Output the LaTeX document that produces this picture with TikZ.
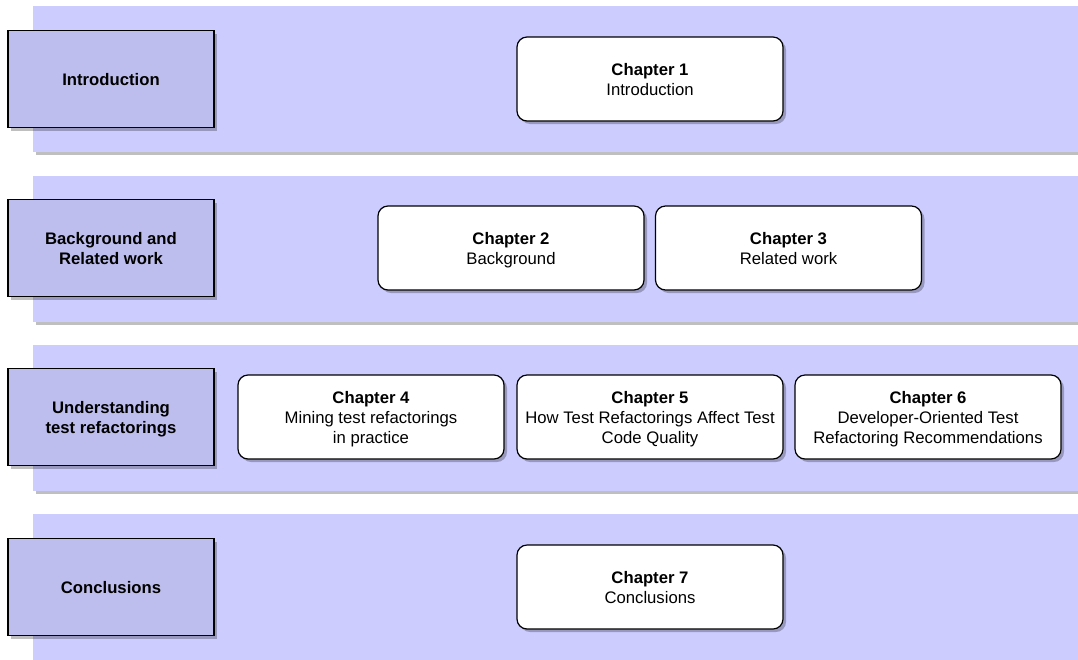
\documentclass[tikz,border=0pt]{standalone}
\usepackage{fontspec}
\setmainfont{Liberation Sans}
\usetikzlibrary{shadows}
\definecolor{bandfill}{RGB}{204,204,255}
\definecolor{labelfill}{RGB}{190,190,238}
% fixed line box so every text line sits the same way in its node
\newcommand{\linebox}{\rule[-4pt]{0pt}{20pt}}
\tikzset{
  boxshadow/.style={drop shadow={shadow xshift=3pt, shadow yshift=-3pt, fill=black, opacity=0.25}},
  band/.style={draw=none, fill=bandfill, minimum width=1060pt, minimum height=146pt,
    anchor=north west, inner sep=0pt, boxshadow},
  partlabel/.style={draw=black, line width=1.2pt, fill=labelfill, minimum width=206pt,
    minimum height=97pt, inner sep=0pt, align=center,
    font=\fontsize{16.7}{20}\selectfont\bfseries, boxshadow},
  chapter/.style={draw=black, line width=1.2pt, fill=white, rounded corners=10pt,
    minimum width=266pt, minimum height=84pt, inner sep=0pt, align=center,
    font=\fontsize{16.7}{20}\selectfont, boxshadow},
}
\begin{document}
\begin{tikzpicture}[x=1pt, y=-1pt]
  \useasboundingbox (0,0) rectangle (1078,659);
  \begin{scope}
    \clip (0,0) rectangle (1078,659);
    % horizontal bands, one per part
    \node[band] (b1) at (33,6) {};
    \node[band] (b2) at (33,176) {};
    \node[band] (b3) at (33,345) {};
    \node[band] (b4) at (33,514) {};
  \end{scope}

  % part labels
  \node[partlabel] (p1) at (111,79) {\linebox Introduction};
  \node[partlabel] (p2) at (111,248) {\linebox Background and\\\linebox Related work};
  \node[partlabel] (p3) at (111,417) {\linebox Understanding\\\linebox test refactorings};
  \node[partlabel] (p4) at (111,587) {\linebox Conclusions};

  % chapters
  \node[chapter] (c1) at (650,79) {\linebox\textbf{Chapter 1}\\\linebox Introduction};
  \node[chapter] (c2) at (511,248) {\linebox\textbf{Chapter 2}\\\linebox Background};
  \node[chapter] (c3) at (788.5,248) {\linebox\textbf{Chapter 3}\\\linebox Related work};
  \node[chapter] (c4) at (371,417) {\linebox\textbf{Chapter 4}\\\linebox Mining test refactorings\\\linebox in practice};
  \node[chapter] (c5) at (650,417) {\linebox\textbf{Chapter 5}\\\linebox How Test Refactorings Affect Test\\\linebox Code Quality};
  \node[chapter] (c6) at (928,417) {\linebox\textbf{Chapter 6}\\\linebox Developer-Oriented Test\\\linebox Refactoring Recommendations};
  \node[chapter] (c7) at (650,587) {\linebox\textbf{Chapter 7}\\\linebox Conclusions};
\end{tikzpicture}
\end{document}
